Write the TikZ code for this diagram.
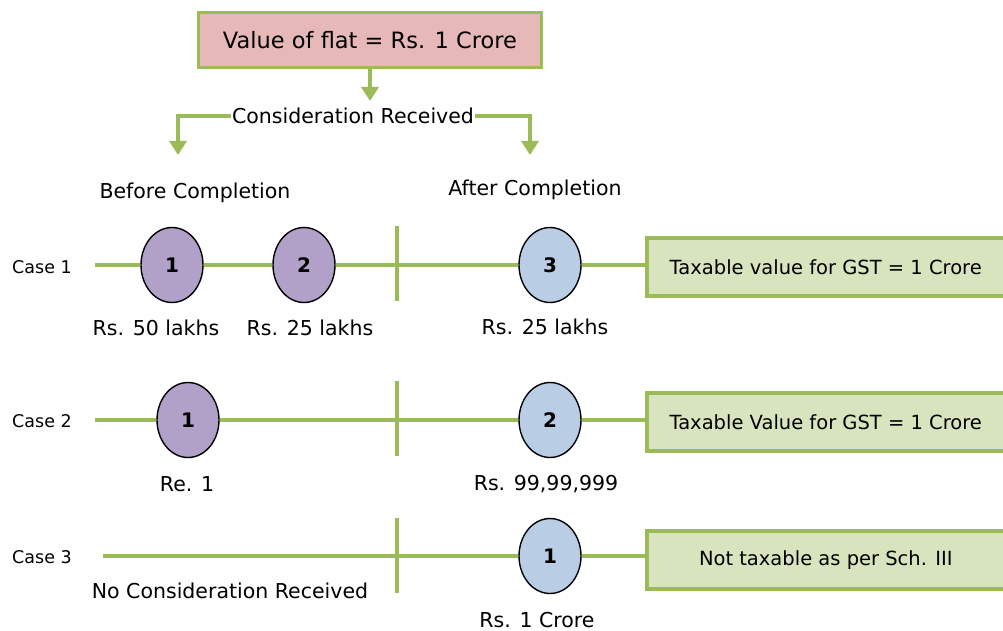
\documentclass[tikz,border=0pt]{standalone}
\usepackage{fontspec}
\setmainfont{DejaVu Sans}
\usetikzlibrary{arrows.meta,shapes.geometric}
\definecolor{lgreen}{HTML}{9BBB59}
\definecolor{pinkfill}{HTML}{E6B9B8}
\definecolor{boxfill}{HTML}{D7E4BD}
\definecolor{purp}{HTML}{B1A0C7}
\definecolor{blu}{HTML}{B9CDE5}
\tikzset{
  gline/.style={draw=lgreen, line width=3.5pt},
  garrow/.style={draw=lgreen, line width=4pt, -{Triangle[length=14pt,width=17pt]}},
  ell/.style={ellipse, draw=black, line width=1.4pt, minimum width=62pt, minimum height=75pt, inner sep=0pt, font=\fontsize{20}{24}\selectfont\bfseries},
  purpell/.style={ell, fill=purp},
  bluell/.style={ell, fill=blu},
  resbox/.style={rectangle, draw=lgreen, line width=3.5pt, fill=boxfill, minimum width=370pt, minimum height=58pt, inner sep=0pt, anchor=west, font=\fontsize{19.5}{23}\selectfont},
  lbl/.style={font=\fontsize{20.5}{24}\selectfont},
  casel/.style={font=\fontsize{17.5}{21}\selectfont},
}
\begin{document}
\begin{tikzpicture}[x=1pt,y=-1pt]
\useasboundingbox (0,0) rectangle (1003,631);
\clip (0,0) rectangle (1003,631);
% top box
\node[rectangle, draw=lgreen, line width=3.5pt, fill=pinkfill, minimum width=343pt, minimum height=55pt, font=\fontsize{22.5}{26}\selectfont] (top) at (370,40) {Value of flat = Rs. 1 Crore};
\coordinate (topa) at (370,101);
\draw[garrow] (top.south) -- (topa);
\node[lbl, inner sep=1pt] (cons) at (353,116) {Consideration Received};
\coordinate (la) at (178,155);
\coordinate (ra) at (530,155);
\draw[garrow] (cons.west) -| (la);
\draw[garrow] (cons.east) -| (ra);
\node[lbl] (before) at (195,193) {Before Completion};
\node[lbl] (after) at (535,190) {After Completion};

% case 1
\node[casel] (c1) at (42,267) {Case 1};
\coordinate (c1s) at (95,265);
\node[purpell] (a1) at (172,265) {1};
\node[purpell] (a2) at (304,265) {2};
\node[bluell] (a3) at (550,265) {3};
\node[resbox] (b1) at (645,267) {\hspace*{-12pt}Taxable value for GST = 1 Crore};
\draw[gline] (c1s) -- (a1) -- (a2) -- (a3) -- (b1.west |- a3);
\draw[gline] (397,226) -- (397,301);
\node[lbl] (a1l) at (156,328) {Rs. 50 lakhs};
\node[lbl] (a2l) at (310,328) {Rs. 25 lakhs};
\node[lbl] (a3l) at (545,327) {Rs. 25 lakhs};

% case 2
\node[casel] (c2) at (42,421) {Case 2};
\coordinate (c2s) at (95,420);
\node[purpell] (d1) at (188,420) {1};
\node[bluell] (d2) at (550,420) {2};
\node[resbox] (b2) at (645,422) {\hspace*{-12pt}Taxable Value for GST = 1 Crore};
\draw[gline] (c2s) -- (d1) -- (d2) -- (b2.west |- d2);
\draw[gline] (397,381) -- (397,456);
\node[lbl] (d1l) at (187,484) {Re. 1};
\node[lbl] (d2l) at (546,484) {Rs. 99,99,999};

% case 3
\node[casel] (c3) at (42,557) {Case 3};
\coordinate (c3s) at (103,556);
\node[bluell] (e1) at (550,556) {1};
\node[resbox] (b3) at (645,560) {\hspace*{-12pt}Not taxable as per Sch. III};
\draw[gline] (c3s) -- (e1) -- (b3.west |- e1);
\draw[gline] (397,518) -- (397,593);
\node[lbl] (e0l) at (230,591) {No Consideration Received};
\node[lbl] (e1l) at (537,620) {Rs. 1 Crore};
\end{tikzpicture}
\end{document}
